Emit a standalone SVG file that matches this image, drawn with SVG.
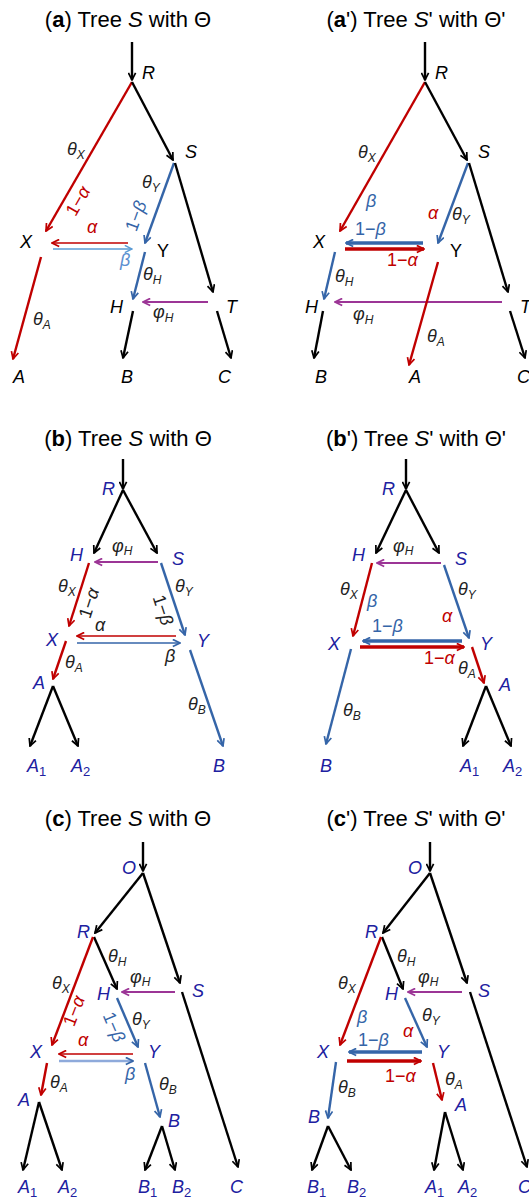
<svg xmlns="http://www.w3.org/2000/svg" width="529" height="1200" viewBox="0 0 529 1200">
<style>
text{font-family:"Liberation Sans",Arial,sans-serif}
.ttl{font-size:22px;fill:#000}
.n{font-size:18px;font-style:italic;fill:#000}
.nb{font-size:18px;font-style:italic;fill:#2020a0}
.g{font-size:18px;font-style:italic;fill:#222}
.gr{font-size:18px;font-style:italic;fill:#c00000}
.gb{font-size:18px;font-style:italic;fill:#3565a8}
.gl{font-size:18px;font-style:italic;fill:#5b8fd0}
.up{font-style:normal}
.s{font-size:12px}
.k{stroke:#000;stroke-width:2.4;fill:none}
.r{stroke:#c00000;stroke-width:2.4;fill:none}
.b{stroke:#3565a8;stroke-width:2.4;fill:none}
.p{stroke:#9c3596;stroke-width:2.2;fill:none}
.rt{stroke:#c00000;stroke-width:1.6;fill:none}
.bt{stroke:#3565a8;stroke-width:1.6;fill:none}
.lt{stroke:#5b9bd5;stroke-width:1.6;fill:none}
.lc{stroke:#8eaadb;stroke-width:2.4;fill:none}
.rT{stroke:#c00000;stroke-width:3.6;fill:none}
.bT{stroke:#3565a8;stroke-width:3.6;fill:none}
</style>
<defs>
<marker id="mk" viewBox="0 0 10 10" refX="9" refY="5" markerWidth="9" markerHeight="9" markerUnits="userSpaceOnUse" orient="auto"><path d="M1,1 L9,5 L1,9" fill="none" stroke="#000" stroke-width="1.9"/></marker>
<marker id="mr" viewBox="0 0 10 10" refX="9" refY="5" markerWidth="9" markerHeight="9" markerUnits="userSpaceOnUse" orient="auto"><path d="M1,1 L9,5 L1,9" fill="none" stroke="#c00000" stroke-width="1.9"/></marker>
<marker id="mb" viewBox="0 0 10 10" refX="9" refY="5" markerWidth="9" markerHeight="9" markerUnits="userSpaceOnUse" orient="auto"><path d="M1,1 L9,5 L1,9" fill="none" stroke="#3565a8" stroke-width="1.9"/></marker>
<marker id="mp" viewBox="0 0 10 10" refX="9" refY="5" markerWidth="9" markerHeight="9" markerUnits="userSpaceOnUse" orient="auto"><path d="M1,1 L9,5 L1,9" fill="none" stroke="#9c3596" stroke-width="1.9"/></marker>
<marker id="ml" viewBox="0 0 10 10" refX="9" refY="5" markerWidth="9" markerHeight="9" markerUnits="userSpaceOnUse" orient="auto"><path d="M1,1 L9,5 L1,9" fill="none" stroke="#5b9bd5" stroke-width="1.7"/></marker>
<marker id="mc" viewBox="0 0 10 10" refX="9" refY="5" markerWidth="9" markerHeight="9" markerUnits="userSpaceOnUse" orient="auto"><path d="M1,1 L9,5 L1,9" fill="none" stroke="#3565a8" stroke-width="1.9"/></marker>
</defs>

<g id="titles">
<text class="ttl" x="128" y="27" text-anchor="middle">(<tspan font-weight="bold">a</tspan>) Tree <tspan font-style="italic">S</tspan> with Θ</text>
<text class="ttl" x="416" y="27" text-anchor="middle">(<tspan font-weight="bold">a</tspan>') Tree <tspan font-style="italic">S</tspan>' with Θ'</text>
<text class="ttl" x="128" y="446" text-anchor="middle">(<tspan font-weight="bold">b</tspan>) Tree <tspan font-style="italic">S</tspan> with Θ</text>
<text class="ttl" x="416" y="446" text-anchor="middle">(<tspan font-weight="bold">b</tspan>') Tree <tspan font-style="italic">S</tspan>' with Θ'</text>
<text class="ttl" x="128" y="826" text-anchor="middle">(<tspan font-weight="bold">c</tspan>) Tree <tspan font-style="italic">S</tspan> with Θ</text>
<text class="ttl" x="416" y="826" text-anchor="middle">(<tspan font-weight="bold">c</tspan>') Tree <tspan font-style="italic">S</tspan>' with Θ'</text>
</g>

<g id="connectors">
<!-- panel a -->
<path class="k" d="M132,42 L132,80" marker-end="url(#mk)"/>
<path class="r" d="M132,82 L46,231" marker-end="url(#mr)"/>
<path class="k" d="M132,82 L173,160" marker-end="url(#mk)"/>
<path class="b" d="M174,163 L145,243" marker-end="url(#mb)"/>
<path class="k" d="M175,163 L213,292" marker-end="url(#mk)"/>
<path class="rt" d="M128,243 L52,243" marker-end="url(#mr)"/>
<path class="lt" d="M53,249 L132,249" marker-end="url(#ml)"/>
<path class="b" d="M145,252 L133,299" marker-end="url(#mb)"/>
<path class="p" d="M208,302 L143,302" marker-end="url(#mp)"/>
<path class="r" d="M41,257 L13,359" marker-end="url(#mr)"/>
<path class="k" d="M133,311 L123,358" marker-end="url(#mk)"/>
<path class="k" d="M217,311 L231,358" marker-end="url(#mk)"/>
<!-- panel a' -->
<path class="k" d="M425,42 L425,80" marker-end="url(#mk)"/>
<path class="r" d="M425,82 L340,231" marker-end="url(#mr)"/>
<path class="k" d="M425,82 L467,160" marker-end="url(#mk)"/>
<path class="b" d="M468,163 L438,243" marker-end="url(#mb)"/>
<path class="k" d="M469,163 L508,292" marker-end="url(#mk)"/>
<path class="bT" d="M423,243 L346,243" marker-end="url(#mb)"/>
<path class="rT" d="M345,249 L424,249" marker-end="url(#mr)"/>
<path class="b" d="M335,252 L324,299" marker-end="url(#mb)"/>
<path class="p" d="M502,302 L335,302" marker-end="url(#mp)"/>
<path class="r" d="M438,262 L409,365" marker-end="url(#mr)"/>
<path class="k" d="M323,311 L314,358" marker-end="url(#mk)"/>
<path class="k" d="M510,311 L525,358" marker-end="url(#mk)"/>
<!-- panel b -->
<path class="k" d="M123,459 L123,489" marker-end="url(#mk)"/>
<path class="k" d="M123,490 L94,553" marker-end="url(#mk)"/>
<path class="k" d="M123,490 L157,553" marker-end="url(#mk)"/>
<path class="p" d="M158,562 L95,562" marker-end="url(#mp)"/>
<path class="r" d="M89,563 L69,626" marker-end="url(#mr)"/>
<path class="b" d="M161,563 L185,635" marker-end="url(#mb)"/>
<path class="rt" d="M176,636 L77,636" marker-end="url(#mr)"/>
<path class="bt" d="M77,643 L180,643" marker-end="url(#mb)"/>
<path class="r" d="M66,641 L53,679" marker-end="url(#mr)"/>
<path class="k" d="M53,686 L30,746" marker-end="url(#mk)"/>
<path class="k" d="M53,686 L78,746" marker-end="url(#mk)"/>
<path class="b" d="M190,650 L223,746" marker-end="url(#mb)"/>
<!-- panel b' -->
<path class="k" d="M406,459 L406,489" marker-end="url(#mk)"/>
<path class="k" d="M406,490 L376,553" marker-end="url(#mk)"/>
<path class="k" d="M406,490 L439,553" marker-end="url(#mk)"/>
<path class="p" d="M441,563 L377,563" marker-end="url(#mp)"/>
<path class="r" d="M372,563 L353,636" marker-end="url(#mr)"/>
<path class="b" d="M444,565 L469,638" marker-end="url(#mb)"/>
<path class="bT" d="M462,641 L363,641" marker-end="url(#mb)"/>
<path class="rT" d="M360,647 L464,647" marker-end="url(#mr)"/>
<path class="r" d="M472,647 L484,683" marker-end="url(#mr)"/>
<path class="k" d="M486,686 L463,746" marker-end="url(#mk)"/>
<path class="k" d="M486,686 L511,746" marker-end="url(#mk)"/>
<path class="b" d="M351,649 L326,744" marker-end="url(#mb)"/>
<!-- panel c -->
<path class="k" d="M143,842 L143,871" marker-end="url(#mk)"/>
<path class="k" d="M143,873 L95,933" marker-end="url(#mk)"/>
<path class="k" d="M143,873 L180,983" marker-end="url(#mk)"/>
<path class="k" d="M94,937 L117,989" marker-end="url(#mk)"/>
<path class="p" d="M175,992 L122,992" marker-end="url(#mp)"/>
<path class="r" d="M93,937 L52,1045" marker-end="url(#mr)"/>
<path class="b" d="M117,998 L138,1047" marker-end="url(#mb)"/>
<path class="rt" d="M133,1054 L59,1054" marker-end="url(#mr)"/>
<path class="lc" d="M59,1061 L133,1061" marker-end="url(#mc)"/>
<path class="r" d="M47,1063 L41,1095" marker-end="url(#mr)"/>
<path class="b" d="M145,1063 L160,1117" marker-end="url(#mb)"/>
<path class="k" d="M39,1102 L23,1170" marker-end="url(#mk)"/>
<path class="k" d="M39,1102 L62,1170" marker-end="url(#mk)"/>
<path class="k" d="M162,1126 L145,1170" marker-end="url(#mk)"/>
<path class="k" d="M162,1126 L175,1170" marker-end="url(#mk)"/>
<path class="k" d="M182,992 L238,1167" marker-end="url(#mk)"/>
<!-- panel c' -->
<path class="k" d="M430,842 L430,871" marker-end="url(#mk)"/>
<path class="k" d="M430,873 L383,933" marker-end="url(#mk)"/>
<path class="k" d="M430,873 L467,983" marker-end="url(#mk)"/>
<path class="k" d="M382,937 L403,989" marker-end="url(#mk)"/>
<path class="p" d="M462,992 L408,992" marker-end="url(#mp)"/>
<path class="r" d="M381,937 L340,1045" marker-end="url(#mr)"/>
<path class="b" d="M405,998 L427,1047" marker-end="url(#mb)"/>
<path class="bT" d="M422,1052 L349,1052" marker-end="url(#mb)"/>
<path class="rT" d="M347,1061 L421,1061" marker-end="url(#mr)"/>
<path class="b" d="M336,1062 L328,1118" marker-end="url(#mb)"/>
<path class="r" d="M433,1063 L442,1100" marker-end="url(#mr)"/>
<path class="k" d="M328,1126 L312,1170" marker-end="url(#mk)"/>
<path class="k" d="M328,1126 L351,1170" marker-end="url(#mk)"/>
<path class="k" d="M445,1112 L434,1170" marker-end="url(#mk)"/>
<path class="k" d="M445,1112 L463,1170" marker-end="url(#mk)"/>
<path class="k" d="M470,992 L527,1167" marker-end="url(#mk)"/>
</g>

<g id="edge-labels">
<!-- a -->
<text class="g" x="67" y="155">θ<tspan class="s" dy="4">X</tspan></text>
<text class="g" x="142" y="188">θ<tspan class="s" dy="4">Y</tspan></text>
<text class="g" x="143" y="280">θ<tspan class="s" dy="4">H</tspan></text>
<text class="g" x="33" y="325">θ<tspan class="s" dy="4">A</tspan></text>
<text class="g" x="153" y="318">φ<tspan class="s" dy="4">H</tspan></text>
<text class="gr" x="87" y="233">α</text>
<text class="gl" x="120" y="266">β</text>
<text class="gr" text-anchor="middle" transform="translate(78,201) rotate(-60)" dy="6"><tspan class="up">1−</tspan>α</text>
<text class="gb" text-anchor="middle" transform="translate(136,216) rotate(-70)" dy="6"><tspan class="up">1−</tspan>β</text>
<!-- a' -->
<text class="g" x="358" y="158">θ<tspan class="s" dy="4">X</tspan></text>
<text class="g" x="452" y="220">θ<tspan class="s" dy="4">Y</tspan></text>
<text class="g" x="335" y="282">θ<tspan class="s" dy="4">H</tspan></text>
<text class="g" x="427" y="342">θ<tspan class="s" dy="4">A</tspan></text>
<text class="g" x="353" y="320">φ<tspan class="s" dy="4">H</tspan></text>
<text class="gb" x="366" y="207">β</text>
<text class="gr" x="428" y="219">α</text>
<text class="gb" x="355" y="235"><tspan class="up">1−</tspan>β</text>
<text class="gr" x="387" y="266"><tspan class="up">1−</tspan>α</text>
<!-- b -->
<text class="g" x="112" y="552">φ<tspan class="s" dy="3">H</tspan></text>
<text class="g" x="58" y="592">θ<tspan class="s" dy="4">X</tspan></text>
<text class="g" x="175" y="592">θ<tspan class="s" dy="4">Y</tspan></text>
<text class="g" x="95" y="631">α</text>
<text class="g" x="165" y="662">β</text>
<text class="g" x="65" y="668">θ<tspan class="s" dy="4">A</tspan></text>
<text class="g" x="188" y="710">θ<tspan class="s" dy="4">B</tspan></text>
<text class="g" text-anchor="middle" transform="translate(89,603) rotate(-72)" dy="6"><tspan class="up">1−</tspan>α</text>
<text class="g" text-anchor="middle" transform="translate(163,610) rotate(72)" dy="6"><tspan class="up">1−</tspan>β</text>
<!-- b' -->
<text class="g" x="393" y="552">φ<tspan class="s" dy="3">H</tspan></text>
<text class="g" x="340" y="595">θ<tspan class="s" dy="4">X</tspan></text>
<text class="g" x="458" y="595">θ<tspan class="s" dy="4">Y</tspan></text>
<text class="gb" x="367" y="607">β</text>
<text class="gr" x="442" y="622">α</text>
<text class="gb" x="372" y="632"><tspan class="up">1−</tspan>β</text>
<text class="gr" x="424" y="664"><tspan class="up">1−</tspan>α</text>
<text class="g" x="458" y="674">θ<tspan class="s" dy="4">A</tspan></text>
<text class="g" x="343" y="716">θ<tspan class="s" dy="4">B</tspan></text>
<!-- c -->
<text class="g" x="108" y="962">θ<tspan class="s" dy="4">H</tspan></text>
<text class="g" x="130" y="983">φ<tspan class="s" dy="3">H</tspan></text>
<text class="g" x="52" y="989">θ<tspan class="s" dy="4">X</tspan></text>
<text class="g" x="132" y="1025">θ<tspan class="s" dy="4">Y</tspan></text>
<text class="gr" x="78" y="1046">α</text>
<text class="gb" x="125" y="1080">β</text>
<text class="g" x="50" y="1088">θ<tspan class="s" dy="4">A</tspan></text>
<text class="g" x="159" y="1090">θ<tspan class="s" dy="4">B</tspan></text>
<text class="gr" text-anchor="middle" transform="translate(74,1011) rotate(-69)" dy="6"><tspan class="up">1−</tspan>α</text>
<text class="gb" text-anchor="middle" transform="translate(114,1027) rotate(67)" dy="6"><tspan class="up">1−</tspan>β</text>
<!-- c' -->
<text class="g" x="397" y="962">θ<tspan class="s" dy="4">H</tspan></text>
<text class="g" x="418" y="983">φ<tspan class="s" dy="3">H</tspan></text>
<text class="g" x="338" y="989">θ<tspan class="s" dy="4">X</tspan></text>
<text class="gb" x="357" y="1023">β</text>
<text class="g" x="422" y="1021">θ<tspan class="s" dy="4">Y</tspan></text>
<text class="gr" x="403" y="1037">α</text>
<text class="gb" x="358" y="1046"><tspan class="up">1−</tspan>β</text>
<text class="gr" x="385" y="1082"><tspan class="up">1−</tspan>α</text>
<text class="g" x="338" y="1093">θ<tspan class="s" dy="4">B</tspan></text>
<text class="g" x="445" y="1085">θ<tspan class="s" dy="4">A</tspan></text>
</g>

<!-- nodes panel a -->
<g id="a-R"><text class="n" x="142" y="79">R</text></g>
<g id="a-S"><text class="n" x="185" y="158">S</text></g>
<g id="a-X"><text class="n" x="20" y="248">X</text></g>
<g id="a-Y"><text class="n up" x="157" y="257">Y</text></g>
<g id="a-H"><text class="n" x="110" y="313">H</text></g>
<g id="a-T"><text class="n" x="226" y="313">T</text></g>
<g id="a-A"><text class="n" x="13" y="383">A</text></g>
<g id="a-B"><text class="n" x="121" y="383">B</text></g>
<g id="a-C"><text class="n" x="218" y="383">C</text></g>
<!-- nodes panel a' -->
<g id="ap-R"><text class="n" x="435" y="79">R</text></g>
<g id="ap-S"><text class="n" x="478" y="158">S</text></g>
<g id="ap-X"><text class="n" x="313" y="248">X</text></g>
<g id="ap-Y"><text class="n up" x="450" y="257">Y</text></g>
<g id="ap-H"><text class="n" x="305" y="313">H</text></g>
<g id="ap-T"><text class="n" x="520" y="313">T</text></g>
<g id="ap-B"><text class="n" x="315" y="383">B</text></g>
<g id="ap-A"><text class="n" x="409" y="383">A</text></g>
<g id="ap-C"><text class="n" x="517" y="383">C</text></g>
<!-- nodes panel b -->
<g id="b-R"><text class="nb" x="102" y="495">R</text></g>
<g id="b-H"><text class="nb" x="70" y="561">H</text></g>
<g id="b-S"><text class="nb" x="172" y="565">S</text></g>
<g id="b-X"><text class="nb" x="46" y="646">X</text></g>
<g id="b-Y"><text class="nb" x="197" y="647">Y</text></g>
<g id="b-A"><text class="nb" x="33" y="689">A</text></g>
<g id="b-A1"><text class="nb" x="27" y="772">A<tspan class="up" font-size="13" dy="4">1</tspan></text></g>
<g id="b-A2"><text class="nb" x="71" y="772">A<tspan class="up" font-size="13" dy="4">2</tspan></text></g>
<g id="b-B"><text class="nb" x="213" y="772">B</text></g>
<!-- nodes panel b' -->
<g id="bp-R"><text class="nb" x="382" y="495">R</text></g>
<g id="bp-H"><text class="nb" x="352" y="561">H</text></g>
<g id="bp-S"><text class="nb" x="455" y="565">S</text></g>
<g id="bp-X"><text class="nb" x="328" y="650">X</text></g>
<g id="bp-Y"><text class="nb" x="480" y="650">Y</text></g>
<g id="bp-A"><text class="nb" x="499" y="691">A</text></g>
<g id="bp-A1"><text class="nb" x="460" y="772">A<tspan class="up" font-size="13" dy="4">1</tspan></text></g>
<g id="bp-A2"><text class="nb" x="503" y="772">A<tspan class="up" font-size="13" dy="4">2</tspan></text></g>
<g id="bp-B"><text class="nb" x="320" y="772">B</text></g>
<!-- nodes panel c -->
<g id="c-O"><text class="nb" x="122" y="874">O</text></g>
<g id="c-R"><text class="nb" x="77" y="938">R</text></g>
<g id="c-H"><text class="nb" x="97" y="1000">H</text></g>
<g id="c-S"><text class="nb" x="192" y="997">S</text></g>
<g id="c-X"><text class="nb" x="30" y="1058">X</text></g>
<g id="c-Y"><text class="nb" x="148" y="1058">Y</text></g>
<g id="c-A"><text class="nb" x="18" y="1106">A</text></g>
<g id="c-B"><text class="nb" x="168" y="1127">B</text></g>
<g id="c-A1"><text class="nb" x="18" y="1193">A<tspan class="up" font-size="13" dy="4">1</tspan></text></g>
<g id="c-A2"><text class="nb" x="58" y="1193">A<tspan class="up" font-size="13" dy="4">2</tspan></text></g>
<g id="c-B1"><text class="nb" x="138" y="1193">B<tspan class="up" font-size="13" dy="4">1</tspan></text></g>
<g id="c-B2"><text class="nb" x="172" y="1193">B<tspan class="up" font-size="13" dy="4">2</tspan></text></g>
<g id="c-C"><text class="nb" x="230" y="1193">C</text></g>
<!-- nodes panel c' -->
<g id="cp-O"><text class="nb" x="408" y="874">O</text></g>
<g id="cp-R"><text class="nb" x="365" y="938">R</text></g>
<g id="cp-H"><text class="nb" x="385" y="1000">H</text></g>
<g id="cp-S"><text class="nb" x="478" y="997">S</text></g>
<g id="cp-X"><text class="nb" x="317" y="1058">X</text></g>
<g id="cp-Y"><text class="nb" x="437" y="1058">Y</text></g>
<g id="cp-B"><text class="nb" x="308" y="1123">B</text></g>
<g id="cp-A"><text class="nb" x="455" y="1111">A</text></g>
<g id="cp-B1"><text class="nb" x="307" y="1193">B<tspan class="up" font-size="13" dy="4">1</tspan></text></g>
<g id="cp-B2"><text class="nb" x="347" y="1193">B<tspan class="up" font-size="13" dy="4">2</tspan></text></g>
<g id="cp-A1"><text class="nb" x="425" y="1193">A<tspan class="up" font-size="13" dy="4">1</tspan></text></g>
<g id="cp-A2"><text class="nb" x="458" y="1193">A<tspan class="up" font-size="13" dy="4">2</tspan></text></g>
<g id="cp-C"><text class="nb" x="518" y="1193">C</text></g>
</svg>
